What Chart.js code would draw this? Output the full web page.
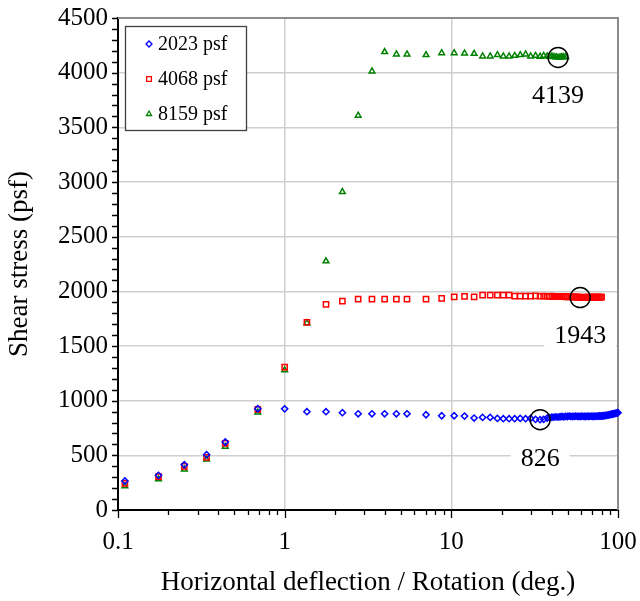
<!DOCTYPE html>
<html>
<head>
<meta charset="utf-8">
<script src="https://cdn.jsdelivr.net/npm/chart.js@4/dist/chart.umd.min.js"></script>
<style>
  html, body { margin: 0; padding: 0; background: #fff; }
  canvas { display: block; }
</style>
</head>
<body>
<canvas id="c" width="640" height="601"></canvas>
<script>
// Horizontal deflection / rotation (deg.) at each reading, shared by all three tests
const deflection = [
  0.11, 0.175, 0.25, 0.34, 0.44, 0.69, 1.0, 1.36, 1.77, 2.22,
  2.76, 3.34, 3.98, 4.68, 5.42, 7.05, 8.75, 10.4, 12.0, 13.7,
  15.4, 17.1, 18.9, 20.5, 22.2, 24.0, 25.9, 27.9, 29.9, 32.0,
  34.1, 35.8, 37.6,
  38.9, 40.1, 41.3, 42.5, 43.7, 44.9, 46.1, 47.3, 48.5, 49.7,
  50.9, 52.1, 53.3, 54.5, 55.7, 56.9, 58.1, 59.3, 60.5, 61.7,
  62.9, 64.1, 65.3, 66.5, 67.7, 68.9, 70.1, 71.3, 72.5, 73.7,
  74.9, 76.1, 77.3, 78.5, 79.7, 80.9, 82.1, 83.3, 84.5, 85.7,
  86.9, 88.1, 89.3, 90.5, 91.7, 92.9, 94.1, 95.3, 96.5, 97.7,
  98.9, 100.0
];

// Shear stress (psf) per normal stress
const stress2023 = [
  265, 317, 414, 506, 622, 926, 925, 899, 899, 890,
  880, 880, 880, 880, 880, 871, 862, 862, 859, 841,
  847, 847, 838, 835, 835, 835, 838, 835, 838, 829,
  826, 829, 841,
  845, 848, 850, 852, 850, 853, 855, 852, 856, 855,
  858, 856, 855, 857, 858, 856, 857, 855, 858, 856,
  857, 855, 858, 857, 856, 858, 857, 856, 858, 857,
  859, 858, 860, 859, 861, 860, 862, 863, 865, 866,
  868, 870, 872, 874, 876, 878, 880, 882, 884, 886,
  888, 890
];
const stress4068 = [
  244, 305, 399, 482, 610, 920, 1307, 1716, 1880, 1910,
  1928, 1928, 1928, 1928, 1928, 1928, 1935, 1950, 1953, 1950,
  1965, 1965, 1965, 1965, 1965, 1956, 1956, 1956, 1956, 1958,
  1955, 1957, 1955,
  1954, 1956, 1953, 1955, 1952, 1954, 1951, 1953, 1950, 1952,
  1949, 1951, 1948, 1950, 1947, 1949, 1946, 1943, 1945, 1946,
  1944, 1946, 1945, 1947, 1945, 1947, 1946, 1948, 1946, 1947,
  1946, 1948, 1947, 1948, 1947
];
const stress8159 = [
  219, 283, 372, 463, 579, 893, 1280, 1710, 2276, 2910,
  3608, 4013, 4190, 4168, 4168, 4162, 4180, 4180, 4177, 4174,
  4150, 4150, 4162, 4150, 4150, 4155, 4162, 4168, 4150, 4155,
  4148, 4155, 4150,
  4148, 4150, 4145, 4143, 4139, 4141, 4145, 4142, 4144
];

const seriesLabels = ['2023 psf', '4068 psf', '8159 psf'];
const xTickValues = [0.1, 1, 10, 100];

// Residual readings that get circled and labelled: [series, reading index]
const residualPicks = [[0, 30], [1, 50], [2, 37]];

const SERIF = '"Liberation Serif", "Times New Roman", Times, serif';

const seriesValues = [stress2023, stress4068, stress8159];
const seriesStyle = [
  { color: '#0000ff', pointStyle: 'rectRot', radius: 3.1, legendRadius: 3 },
  { color: '#ff0000', pointStyle: 'rect', radius: 3.7, legendRadius: 3.4 },
  { color: '#008000', pointStyle: 'triangle', radius: 3.3, legendRadius: 3 }
];

const datasets = seriesValues.map((vals, s) => ({
  label: seriesLabels[s],
  data: vals.map((v, i) => ({ x: deflection[i], y: v })),
  showLine: false,
  pointStyle: seriesStyle[s].pointStyle,
  pointRadius: seriesStyle[s].radius,
  pointBorderWidth: 1.5,
  pointBorderColor: seriesStyle[s].color,
  pointBackgroundColor: 'rgba(255,255,255,0)',
  pointHoverRadius: seriesStyle[s].radius,
  clip: false
}));

// Outward minor ticks and the grey frame on the top and right edges
const framePlugin = {
  id: 'frame',
  beforeDatasetsDraw(chart) {
    const { ctx, chartArea: a, scales: { x, y } } = chart;
    ctx.save();
    ctx.strokeStyle = '#8c8c8c';
    ctx.lineWidth = 2;
    ctx.beginPath();
    ctx.moveTo(a.left, a.top);
    ctx.lineTo(a.right, a.top);
    ctx.lineTo(a.right, a.bottom);
    ctx.stroke();

    ctx.strokeStyle = '#000';
    ctx.lineWidth = 1.3;
    ctx.beginPath();
    for (let v = 0; v <= 4500; v += 100) {
      const py = Math.round(y.getPixelForValue(v)) + 0.5;
      ctx.moveTo(a.left - 6, py);
      ctx.lineTo(a.left, py);
    }
    for (let dec = 0.1; dec < 99; dec *= 10) {
      for (let m = 1; m <= 10; m++) {
        const v = dec * m;
        const px = Math.round(x.getPixelForValue(v)) + 0.5;
        const major = (m === 1 || m === 10);
        ctx.moveTo(px, a.bottom);
        ctx.lineTo(px, a.bottom + (major ? 8 : 5));
      }
    }
    ctx.stroke();
    ctx.restore();
  }
};

// Circled residual readings, the value boxes below them, and the legend box
const notesPlugin = {
  id: 'notes',
  afterDatasetsDraw(chart) {
    const { ctx, scales: { x, y } } = chart;
    ctx.save();
    residualPicks.forEach(([s, i]) => {
      const v = seriesValues[s][i];
      const px = x.getPixelForValue(deflection[i]);
      const py = y.getPixelForValue(v);
      ctx.strokeStyle = '#000';
      ctx.lineWidth = 1.4;
      ctx.beginPath();
      ctx.arc(px, py, 10, 0, Math.PI * 2);
      ctx.stroke();

      const text = String(v);
      ctx.font = '26px ' + SERIF;
      const w = ctx.measureText(text).width;
      const ty = py + 39;
      ctx.fillStyle = '#fff';
      ctx.fillRect(px - w / 2 - 10, ty - 15, w + 20, 30);
      ctx.fillStyle = '#000';
      ctx.textAlign = 'center';
      ctx.textBaseline = 'middle';
      ctx.fillText(text, px, ty);
    });

    // legend
    const bx = 125, by = 26, bw = 121, bh = 104;
    ctx.fillStyle = '#fff';
    ctx.fillRect(bx, by, bw, bh);
    ctx.strokeStyle = '#404040';
    ctx.lineWidth = 1.3;
    ctx.strokeRect(bx + 0.5, by + 0.5, bw, bh);
    ctx.font = '20px ' + SERIF;
    ctx.textAlign = 'left';
    ctx.textBaseline = 'middle';
    seriesLabels.forEach((lab, s) => {
      const ly = 44 + s * 35;
      ctx.strokeStyle = seriesStyle[s].color;
      ctx.fillStyle = 'rgba(255,255,255,0)';
      ctx.lineWidth = 1.3;
      Chart.helpers.drawPoint(ctx, {
        pointStyle: seriesStyle[s].pointStyle,
        radius: seriesStyle[s].legendRadius,
        borderWidth: 1.3,
        rotation: 0
      }, 149, ly);
      ctx.fillStyle = '#000';
      ctx.fillText(lab, 158, ly + 1);
    });
    ctx.restore();
  }
};

const tickFont = { family: SERIF, size: 25 };
const titleFont = { family: SERIF, size: 27 };

new Chart(document.getElementById('c'), {
  type: 'scatter',
  data: { datasets },
  options: {
    responsive: false,
    animation: false,
    events: [],
    layout: { padding: { top: 18, right: 22, left: 0, bottom: 0 } },
    plugins: { legend: { display: false }, tooltip: { enabled: false } },
    scales: {
      x: {
        type: 'logarithmic',
        min: 0.1,
        max: 100,
        afterBuildTicks: s => { s.ticks = xTickValues.map(v => ({ value: v })); },
        afterFit: s => { s.height = 91; s.paddingLeft = 0; s.paddingRight = 0; },
        ticks: {
          callback: v => String(v),
          font: tickFont, color: '#000', padding: 17,
          maxRotation: 0, autoSkip: false
        },
        grid: {
          drawTicks: false,
          lineWidth: 1.5,
          color: c => (c.tick && (c.tick.value === 1 || c.tick.value === 10)) ? '#cfcfcf' : 'rgba(0,0,0,0)'
        },
        border: { color: '#000', width: 2 },
        title: {
          display: true,
          text: 'Horizontal deflection / Rotation (deg.)',
          font: titleFont, color: '#000',
          padding: { top: 0, bottom: 2 }
        }
      },
      y: {
        min: 0,
        max: 4500,
        afterFit: s => { s.width = 118; s.paddingTop = 0; s.paddingBottom = 0; },
        ticks: {
          stepSize: 500,
          callback: v => String(v),
          font: tickFont, color: '#000', padding: 10
        },
        grid: {
          drawTicks: false,
          lineWidth: 1.5,
          color: c => (c.tick && c.tick.value > 0 && c.tick.value < 4500) ? '#cfcfcf' : 'rgba(0,0,0,0)'
        },
        border: { color: '#000', width: 2 },
        title: {
          display: true,
          text: 'Shear stress (psf)',
          font: titleFont, color: '#000',
          padding: { top: 4, bottom: 0 }
        }
      }
    }
  },
  plugins: [framePlugin, notesPlugin]
});
</script>
</body>
</html>
